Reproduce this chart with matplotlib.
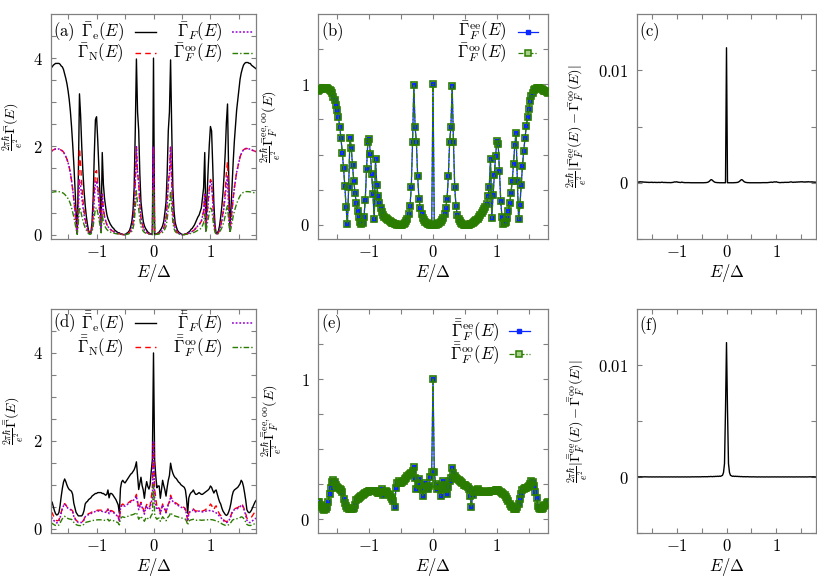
import numpy as np
import matplotlib
matplotlib.use('Agg')
import matplotlib.pyplot as plt
from matplotlib.lines import Line2D

plt.rcParams['mathtext.fontset'] = 'cm'
plt.rcParams['font.family'] = 'serif'
plt.rcParams['font.serif'] = ['DejaVu Serif']

# energy grid E/Delta (step 0.02)
E = np.round(np.linspace(-1.8, 1.8, 181), 2)

# ---- single bar rates, panels (a), (b), (c) ----
# Gamma_F^oo (green), shared by (a) and (b)
gam_F_oo = [
    0.955, 0.960, 0.965, 0.969, 0.972, 0.974, 0.975, 0.973, 0.968, 0.960,
    0.950, 0.935, 0.912, 0.885, 0.855, 0.815, 0.765, 0.700, 0.615, 0.515,
    0.405, 0.275, 0.125, 0.005, 0.270, 0.620, 0.550, 0.425, 0.315, 0.225,
    0.155, 0.100, 0.055, 0.022, 0.005, 0.012, 0.060, 0.180, 0.400, 0.590,
    0.612, 0.505, 0.362, 0.220, 0.040, 0.470, 0.283, 0.207, 0.155, 0.117,
    0.092, 0.074, 0.060, 0.049, 0.040, 0.033, 0.027, 0.021, 0.016, 0.012,
    0.008, 0.005, 0.003, 0.001, 0.000, 0.001, 0.003, 0.008, 0.015, 0.027,
    0.045, 0.076, 0.136, 0.267, 0.588, 0.993, 0.696, 0.588, 0.345, 0.184,
    0.124, 0.076, 0.050, 0.035, 0.024, 0.016, 0.010, 0.006, 0.003, 0.001,
    1.000, 0.001, 0.003, 0.006, 0.010, 0.016, 0.024, 0.035, 0.050, 0.076,
    0.124, 0.184, 0.345, 0.588, 0.696, 0.988, 0.593, 0.267, 0.136, 0.071,
    0.045, 0.027, 0.015, 0.008, 0.003, 0.001, 0.000, 0.001, 0.003, 0.006,
    0.010, 0.015, 0.021, 0.028, 0.035, 0.044, 0.054, 0.068, 0.083, 0.098,
    0.112, 0.128, 0.150, 0.203, 0.267, 0.469, 0.046, 0.212, 0.355, 0.493,
    0.600, 0.576, 0.386, 0.171, 0.053, 0.005, 0.012, 0.022, 0.050, 0.100,
    0.155, 0.225, 0.315, 0.430, 0.570, 0.655, 0.314, 0.040, 0.141, 0.283,
    0.417, 0.529, 0.617, 0.703, 0.767, 0.826, 0.879, 0.915, 0.940, 0.958,
    0.968, 0.974, 0.975, 0.974, 0.972, 0.968, 0.962, 0.956, 0.950, 0.945,
    0.940]
# ee and oo coincide at this resolution, panel (c) shows their difference
gam_F_ee = list(gam_F_oo)

gam_F = [
    1.89, 1.90, 1.92, 1.93, 1.94, 1.94, 1.94, 1.94, 1.93, 1.91,
    1.90, 1.87, 1.82, 1.77, 1.71, 1.63, 1.53, 1.40, 1.23, 1.03,
    0.81, 0.55, 0.25, 0.01, 0.54, 1.24, 1.10, 0.85, 0.63, 0.45,
    0.31, 0.20, 0.11, 0.04, 0.01, 0.02, 0.12, 0.36, 0.80, 1.18,
    1.22, 1.01, 0.72, 0.44, 0.08, 0.94, 0.57, 0.41, 0.31, 0.23,
    0.18, 0.15, 0.12, 0.10, 0.08, 0.07, 0.05, 0.04, 0.03, 0.02,
    0.02, 0.01, 0.01, 0.00, 0.00, 0.00, 0.01, 0.02, 0.03, 0.05,
    0.09, 0.15, 0.27, 0.53, 1.18, 1.99, 1.39, 1.18, 0.69, 0.37,
    0.25, 0.15, 0.10, 0.07, 0.05, 0.03, 0.02, 0.01, 0.01, 0.00,
    2.00, 0.00, 0.01, 0.01, 0.02, 0.03, 0.05, 0.07, 0.10, 0.15,
    0.25, 0.37, 0.69, 1.18, 1.39, 1.98, 1.19, 0.53, 0.27, 0.14,
    0.09, 0.05, 0.03, 0.02, 0.01, 0.00, 0.00, 0.00, 0.01, 0.01,
    0.02, 0.03, 0.04, 0.06, 0.07, 0.09, 0.11, 0.14, 0.17, 0.20,
    0.22, 0.26, 0.30, 0.41, 0.53, 0.94, 0.09, 0.42, 0.71, 0.99,
    1.20, 1.15, 0.77, 0.34, 0.11, 0.01, 0.02, 0.04, 0.10, 0.20,
    0.31, 0.45, 0.63, 0.86, 1.14, 1.31, 0.63, 0.08, 0.28, 0.57,
    0.83, 1.06, 1.23, 1.41, 1.53, 1.65, 1.76, 1.83, 1.88, 1.92,
    1.94, 1.95, 1.95, 1.95, 1.94, 1.94, 1.92, 1.91, 1.90, 1.89,
    1.88]

gam_N = [
    1.89, 1.90, 1.92, 1.93, 1.94, 1.94, 1.94, 1.94, 1.93, 1.91,
    1.90, 1.87, 1.82, 1.77, 1.71, 1.63, 1.53, 1.40, 1.23, 1.03,
    0.81, 0.55, 0.25, 0.02, 0.80, 1.95, 1.60, 1.15, 0.80, 0.55,
    0.36, 0.22, 0.12, 0.05, 0.02, 0.03, 0.14, 0.45, 1.00, 1.42,
    1.45, 1.15, 0.80, 0.48, 0.09, 0.92, 0.57, 0.41, 0.31, 0.23,
    0.18, 0.15, 0.12, 0.10, 0.08, 0.07, 0.05, 0.04, 0.03, 0.02,
    0.02, 0.01, 0.01, 0.00, 0.00, 0.00, 0.01, 0.02, 0.03, 0.05,
    0.09, 0.15, 0.27, 0.53, 1.18, 1.99, 1.39, 1.18, 0.69, 0.37,
    0.25, 0.15, 0.10, 0.07, 0.05, 0.03, 0.02, 0.01, 0.01, 0.00,
    2.00, 0.00, 0.01, 0.01, 0.02, 0.03, 0.05, 0.07, 0.10, 0.15,
    0.25, 0.37, 0.69, 1.18, 1.39, 1.98, 1.19, 0.53, 0.27, 0.14,
    0.09, 0.05, 0.03, 0.02, 0.01, 0.00, 0.00, 0.00, 0.01, 0.01,
    0.02, 0.03, 0.04, 0.06, 0.07, 0.09, 0.11, 0.14, 0.17, 0.20,
    0.22, 0.26, 0.30, 0.41, 0.53, 0.92, 0.09, 0.44, 0.78, 1.05,
    1.25, 1.20, 0.80, 0.36, 0.11, 0.01, 0.02, 0.04, 0.10, 0.20,
    0.33, 0.50, 0.72, 1.00, 1.40, 1.65, 0.75, 0.10, 0.29, 0.57,
    0.83, 1.06, 1.23, 1.41, 1.53, 1.65, 1.76, 1.83, 1.88, 1.92,
    1.94, 1.95, 1.95, 1.95, 1.94, 1.94, 1.92, 1.91, 1.90, 1.89,
    1.88]

gam_e = [
    3.78, 3.80, 3.84, 3.86, 3.88, 3.88, 3.88, 3.88, 3.86, 3.82,
    3.80, 3.74, 3.64, 3.54, 3.42, 3.26, 3.06, 2.80, 2.46, 2.06,
    1.62, 1.10, 0.50, 0.03, 1.34, 3.19, 2.70, 2.00, 1.43, 1.00,
    0.67, 0.42, 0.23, 0.09, 0.03, 0.05, 0.26, 0.81, 1.80, 2.60,
    2.67, 2.16, 1.52, 0.92, 0.17, 1.86, 1.14, 0.82, 0.62, 0.46,
    0.36, 0.30, 0.24, 0.20, 0.16, 0.14, 0.10, 0.08, 0.06, 0.04,
    0.04, 0.02, 0.02, 0.00, 0.00, 0.00, 0.02, 0.04, 0.06, 0.10,
    0.18, 0.30, 0.54, 1.06, 2.36, 3.98, 2.78, 2.36, 1.38, 0.74,
    0.50, 0.30, 0.20, 0.14, 0.10, 0.06, 0.04, 0.02, 0.02, 0.00,
    4.00, 0.00, 0.02, 0.02, 0.04, 0.06, 0.10, 0.14, 0.20, 0.30,
    0.50, 0.74, 1.38, 2.36, 2.78, 3.96, 2.38, 1.06, 0.54, 0.28,
    0.18, 0.10, 0.06, 0.04, 0.02, 0.00, 0.00, 0.00, 0.02, 0.02,
    0.04, 0.06, 0.08, 0.12, 0.14, 0.18, 0.22, 0.28, 0.34, 0.40,
    0.44, 0.52, 0.60, 0.82, 1.06, 1.86, 0.18, 0.86, 1.49, 2.04,
    2.45, 2.35, 1.57, 0.70, 0.22, 0.02, 0.04, 0.08, 0.20, 0.40,
    0.64, 0.95, 1.35, 1.86, 2.54, 2.96, 1.38, 0.18, 0.57, 1.14,
    1.66, 2.12, 2.46, 2.82, 3.06, 3.30, 3.52, 3.66, 3.76, 3.84,
    3.88, 3.90, 3.90, 3.90, 3.88, 3.88, 3.84, 3.82, 3.80, 3.78,
    3.76]

# |ee - oo| for panel (c), in units of 1e-3
diff_c_milli = [
    0.05, 0.08, 0.04, 0.10, 0.06, 0.09, 0.05, 0.07, 0.04, 0.06,
    0.03, 0.05, 0.02, 0.04, 0.03, 0.05, 0.02, 0.03, 0.04, 0.02,
    0.03, 0.02, 0.04, 0.02, 0.03, 0.05, 0.03, 0.02, 0.03, 0.02,
    0.02, 0.01, 0.02, 0.01, 0.01, 0.02, 0.03, 0.05, 0.08, 0.06,
    0.09, 0.05, 0.04, 0.03, 0.02, 0.06, 0.03, 0.02, 0.01, 0.01,
    0.01, 0.01, 0.01, 0.01, 0.00, 0.00, 0.00, 0.00, 0.00, 0.00,
    0.00, 0.00, 0.00, 0.00, 0.00, 0.00, 0.00, 0.00, 0.01, 0.01,
    0.02, 0.04, 0.08, 0.15, 0.25, 0.28, 0.20, 0.12, 0.06, 0.03,
    0.02, 0.01, 0.01, 0.00, 0.00, 0.00, 0.00, 0.00, 0.00, 0.00,
    12.0, 0.00, 0.00, 0.00, 0.00, 0.00, 0.00, 0.00, 0.01, 0.01,
    0.02, 0.03, 0.06, 0.12, 0.20, 0.28, 0.25, 0.15, 0.08, 0.04,
    0.02, 0.01, 0.01, 0.00, 0.00, 0.00, 0.00, 0.00, 0.00, 0.00,
    0.00, 0.00, 0.00, 0.00, 0.00, 0.00, 0.01, 0.01, 0.01, 0.01,
    0.01, 0.01, 0.02, 0.03, 0.04, 0.06, 0.03, 0.05, 0.08, 0.06,
    0.09, 0.05, 0.03, 0.02, 0.01, 0.02, 0.03, 0.02, 0.03, 0.04,
    0.03, 0.04, 0.03, 0.05, 0.06, 0.08, 0.05, 0.03, 0.06, 0.04,
    0.07, 0.05, 0.08, 0.06, 0.09, 0.07, 0.10, 0.06, 0.08, 0.05,
    0.09, 0.06, 0.10, 0.07, 0.08, 0.06, 0.09, 0.05, 0.07, 0.04,
    0.06]

# ---- double bar rates, panels (d), (e), (f) ----
gam2_F_oo = [
    0.125, 0.118, 0.100, 0.083, 0.072, 0.066, 0.072, 0.085, 0.125, 0.180,
    0.225, 0.262, 0.280, 0.265, 0.245, 0.228, 0.220, 0.215, 0.210, 0.190,
    0.142, 0.115, 0.092, 0.080, 0.072, 0.069, 0.068, 0.072, 0.080, 0.100,
    0.135, 0.145, 0.152, 0.160, 0.166, 0.172, 0.180, 0.186, 0.190, 0.194,
    0.197, 0.200, 0.201, 0.201, 0.200, 0.197, 0.193, 0.188, 0.184, 0.192,
    0.213, 0.172, 0.195, 0.197, 0.190, 0.180, 0.170, 0.158, 0.145, 0.130,
    0.085, 0.225, 0.260, 0.270, 0.258, 0.255, 0.265, 0.275, 0.285, 0.295,
    0.305, 0.312, 0.320, 0.330, 0.345, 0.370, 0.296, 0.213, 0.250, 0.284,
    0.240, 0.213, 0.166, 0.225, 0.260, 0.230, 0.213, 0.237, 0.300, 0.336,
    1.000, 0.336, 0.250, 0.213, 0.237, 0.237, 0.166, 0.213, 0.270, 0.240,
    0.213, 0.178, 0.230, 0.270, 0.296, 0.365, 0.330, 0.310, 0.295, 0.285,
    0.278, 0.270, 0.262, 0.255, 0.245, 0.240, 0.236, 0.228, 0.215, 0.166,
    0.083, 0.170, 0.190, 0.200, 0.205, 0.213, 0.200, 0.192, 0.190, 0.195,
    0.200, 0.195, 0.190, 0.192, 0.196, 0.198, 0.200, 0.201, 0.202, 0.204,
    0.206, 0.204, 0.200, 0.192, 0.185, 0.178, 0.168, 0.155, 0.140, 0.130,
    0.110, 0.095, 0.085, 0.075, 0.071, 0.075, 0.088, 0.110, 0.140, 0.180,
    0.205, 0.213, 0.218, 0.225, 0.230, 0.238, 0.250, 0.268, 0.262, 0.237,
    0.195, 0.150, 0.095, 0.080, 0.072, 0.071, 0.078, 0.090, 0.100, 0.112,
    0.118]
gam2_F_ee = list(gam2_F_oo)

gam2_F = [
    0.25, 0.24, 0.20, 0.17, 0.14, 0.13, 0.14, 0.17, 0.25, 0.36,
    0.45, 0.52, 0.56, 0.53, 0.49, 0.46, 0.44, 0.43, 0.42, 0.38,
    0.28, 0.23, 0.18, 0.16, 0.14, 0.14, 0.14, 0.14, 0.16, 0.20,
    0.27, 0.29, 0.30, 0.32, 0.33, 0.34, 0.36, 0.37, 0.38, 0.39,
    0.39, 0.40, 0.40, 0.40, 0.40, 0.39, 0.39, 0.38, 0.37, 0.38,
    0.43, 0.34, 0.39, 0.39, 0.38, 0.36, 0.34, 0.32, 0.29, 0.26,
    0.17, 0.45, 0.52, 0.54, 0.52, 0.51, 0.53, 0.55, 0.57, 0.59,
    0.61, 0.62, 0.64, 0.66, 0.69, 0.74, 0.59, 0.43, 0.50, 0.57,
    0.48, 0.43, 0.33, 0.45, 0.52, 0.46, 0.43, 0.47, 0.60, 0.67,
    2.00, 0.67, 0.50, 0.43, 0.47, 0.47, 0.33, 0.43, 0.54, 0.48,
    0.43, 0.36, 0.46, 0.54, 0.59, 0.73, 0.66, 0.62, 0.59, 0.57,
    0.56, 0.54, 0.52, 0.51, 0.49, 0.48, 0.47, 0.46, 0.43, 0.33,
    0.17, 0.34, 0.38, 0.40, 0.41, 0.43, 0.40, 0.38, 0.38, 0.39,
    0.40, 0.39, 0.38, 0.38, 0.39, 0.40, 0.40, 0.40, 0.40, 0.41,
    0.41, 0.41, 0.40, 0.38, 0.37, 0.36, 0.34, 0.31, 0.28, 0.26,
    0.22, 0.19, 0.17, 0.15, 0.14, 0.15, 0.18, 0.22, 0.28, 0.36,
    0.41, 0.43, 0.44, 0.45, 0.46, 0.48, 0.50, 0.54, 0.52, 0.47,
    0.39, 0.30, 0.19, 0.16, 0.14, 0.14, 0.16, 0.18, 0.20, 0.22,
    0.24]

gam2_N = [
    0.38, 0.36, 0.30, 0.24, 0.20, 0.18, 0.18, 0.20, 0.28, 0.38,
    0.47, 0.54, 0.57, 0.54, 0.50, 0.47, 0.45, 0.44, 0.43, 0.40,
    0.30, 0.24, 0.19, 0.17, 0.15, 0.15, 0.15, 0.15, 0.17, 0.21,
    0.29, 0.31, 0.32, 0.34, 0.35, 0.36, 0.38, 0.39, 0.40, 0.41,
    0.41, 0.42, 0.42, 0.42, 0.42, 0.41, 0.41, 0.40, 0.39, 0.40,
    0.45, 0.36, 0.41, 0.41, 0.40, 0.38, 0.36, 0.34, 0.31, 0.28,
    0.18, 0.47, 0.54, 0.56, 0.54, 0.53, 0.55, 0.57, 0.59, 0.61,
    0.63, 0.64, 0.66, 0.68, 0.72, 0.78, 0.62, 0.46, 0.53, 0.60,
    0.50, 0.45, 0.36, 0.47, 0.55, 0.50, 0.47, 0.52, 0.70, 0.90,
    2.00, 0.90, 0.70, 0.50, 0.50, 0.50, 0.36, 0.45, 0.56, 0.50,
    0.45, 0.38, 0.48, 0.56, 0.62, 0.76, 0.69, 0.64, 0.61, 0.59,
    0.58, 0.56, 0.54, 0.53, 0.51, 0.50, 0.49, 0.48, 0.45, 0.35,
    0.18, 0.36, 0.40, 0.42, 0.43, 0.45, 0.42, 0.40, 0.40, 0.41,
    0.42, 0.41, 0.40, 0.40, 0.41, 0.42, 0.44, 0.46, 0.48, 0.50,
    0.56, 0.53, 0.47, 0.43, 0.49, 0.52, 0.44, 0.38, 0.33, 0.30,
    0.25, 0.21, 0.19, 0.17, 0.16, 0.17, 0.20, 0.24, 0.30, 0.38,
    0.43, 0.45, 0.46, 0.47, 0.48, 0.50, 0.52, 0.56, 0.54, 0.49,
    0.42, 0.34, 0.24, 0.22, 0.22, 0.24, 0.26, 0.30, 0.34, 0.38,
    0.40]

gam2_e = [
    0.63, 0.60, 0.50, 0.41, 0.34, 0.31, 0.32, 0.37, 0.53, 0.74,
    0.92, 1.06, 1.13, 1.07, 0.99, 0.93, 0.89, 0.87, 0.85, 0.78,
    0.58, 0.47, 0.37, 0.33, 0.29, 0.29, 0.29, 0.29, 0.33, 0.41,
    0.56, 0.60, 0.62, 0.66, 0.68, 0.70, 0.74, 0.76, 0.78, 0.80,
    0.80, 0.82, 0.82, 0.82, 0.82, 0.80, 0.80, 0.78, 0.76, 0.78,
    0.88, 0.70, 0.80, 0.80, 0.78, 0.74, 0.70, 0.66, 0.60, 0.54,
    0.35, 0.92, 1.06, 1.10, 1.06, 1.04, 1.08, 1.12, 1.16, 1.20,
    1.24, 1.26, 1.30, 1.34, 1.41, 1.52, 1.21, 0.89, 1.03, 1.17,
    0.98, 0.88, 0.69, 0.92, 1.07, 0.96, 0.90, 0.99, 1.30, 1.57,
    4.00, 1.57, 1.20, 0.93, 0.97, 0.97, 0.69, 0.88, 1.10, 0.98,
    0.88, 0.74, 0.94, 1.10, 1.21, 1.49, 1.35, 1.26, 1.20, 1.16,
    1.14, 1.10, 1.06, 1.04, 1.00, 0.98, 0.96, 0.94, 0.88, 0.68,
    0.35, 0.70, 0.78, 0.82, 0.84, 0.88, 0.82, 0.78, 0.78, 0.80,
    0.82, 0.80, 0.78, 0.78, 0.80, 0.82, 0.84, 0.86, 0.88, 0.91,
    0.97, 0.94, 0.87, 0.81, 0.86, 0.88, 0.78, 0.69, 0.61, 0.56,
    0.47, 0.40, 0.36, 0.32, 0.30, 0.32, 0.38, 0.46, 0.58, 0.74,
    0.84, 0.88, 0.90, 0.92, 0.94, 0.98, 1.02, 1.10, 1.06, 0.96,
    0.81, 0.64, 0.43, 0.38, 0.36, 0.38, 0.42, 0.48, 0.54, 0.60,
    0.64]

# |ee - oo| for panel (f), in units of 1e-3
diff_f_milli = [
    0.01, 0.02, 0.01, 0.01, 0.02, 0.01, 0.01, 0.01, 0.02, 0.01,
    0.01, 0.01, 0.00, 0.01, 0.01, 0.00, 0.01, 0.01, 0.00, 0.01,
    0.01, 0.00, 0.01, 0.01, 0.00, 0.01, 0.00, 0.01, 0.01, 0.00,
    0.01, 0.00, 0.01, 0.00, 0.01, 0.01, 0.00, 0.01, 0.01, 0.00,
    0.01, 0.01, 0.00, 0.01, 0.00, 0.01, 0.01, 0.00, 0.01, 0.01,
    0.00, 0.01, 0.01, 0.00, 0.01, 0.01, 0.02, 0.01, 0.01, 0.02,
    0.01, 0.02, 0.01, 0.02, 0.01, 0.02, 0.03, 0.02, 0.03, 0.02,
    0.03, 0.02, 0.04, 0.03, 0.05, 0.04, 0.03, 0.05, 0.04, 0.06,
    0.05, 0.07, 0.05, 0.08, 0.06, 0.10, 0.15, 0.40, 1.20, 6.00,
    12.0, 6.00, 1.20, 0.40, 0.15, 0.10, 0.06, 0.08, 0.05, 0.07,
    0.05, 0.06, 0.04, 0.05, 0.03, 0.04, 0.03, 0.02, 0.03, 0.02,
    0.02, 0.03, 0.02, 0.01, 0.02, 0.01, 0.01, 0.02, 0.01, 0.01,
    0.01, 0.00, 0.01, 0.01, 0.00, 0.01, 0.01, 0.00, 0.01, 0.00,
    0.01, 0.01, 0.00, 0.01, 0.00, 0.01, 0.01, 0.00, 0.01, 0.01,
    0.00, 0.01, 0.01, 0.00, 0.01, 0.00, 0.01, 0.01, 0.00, 0.01,
    0.01, 0.00, 0.01, 0.01, 0.00, 0.01, 0.01, 0.00, 0.01, 0.00,
    0.01, 0.01, 0.00, 0.01, 0.01, 0.00, 0.01, 0.01, 0.00, 0.01,
    0.01, 0.00, 0.01, 0.01, 0.02, 0.01, 0.01, 0.02, 0.01, 0.01,
    0.01]

# colours / styles
c_e, c_N, c_F, c_oo, c_ee = 'black', '#ff0000', '#9400d3', '#2b7d00', '#0a28ff'
frame = '#808080'
fs = 12      # ticks, x labels, legends
fs_y = 10.2  # y labels

fig = plt.figure(figsize=(8.17, 5.78), dpi=100)
W, H = 817, 578


def add_ax(x0, x1, y0, y1):
    return fig.add_axes([x0 / W, 1 - y1 / H, (x1 - x0) / W, (y1 - y0) / H])


def style(ax, ylim, yt, ytl, ymin, ylabel, lx):
    ax.set_xlim(-1.8, 1.8)
    ax.set_ylim(*ylim)
    ax.set_xticks([-1, 0, 1])
    ax.set_xticklabels([r'$-1$', r'$0$', r'$1$'])
    ax.set_xticks([-1.5, -0.5, 0.5, 1.5], minor=True)
    ax.set_yticks(yt)
    ax.set_yticklabels(ytl)
    ax.set_yticks(ymin, minor=True)
    ax.tick_params(which='both', direction='in', top=True, right=True,
                   length=3.5, width=0.8, color=frame, labelsize=fs)
    ax.tick_params(axis='y', which='both', pad=6)
    for s in ax.spines.values():
        s.set_color(frame)
        s.set_linewidth(0.9)
    ax.set_xlabel(r'$E/\Delta$', fontsize=fs, labelpad=1)
    ax.set_ylabel(ylabel, fontsize=fs_y)
    ax.yaxis.set_label_coords(lx, 0.5)


def key(ax, xt, x0, x1, y, label, **kw):
    ax.text(xt, y, label, transform=ax.transAxes, ha='right', va='center', fontsize=fs)
    ax.add_line(Line2D([x0, (x0 + x1) / 2, x1], [y, y, y], transform=ax.transAxes,
                       markevery=[1], clip_on=False, **kw))


def tag(ax, y, s):
    ax.text(0.012, y, s, transform=ax.transAxes, ha='left', va='center', fontsize=fs)


st_e = dict(color=c_e, lw=1.0)
st_N = dict(color=c_N, lw=1.0, dashes=(4, 3))
st_F = dict(color=c_F, lw=1.1, dashes=(1.2, 1.2))
st_oo = dict(color=c_oo, lw=1.0, dashes=(4, 1.5, 1, 1.5))

rows = [(14, 239), (309, 533)]
cols = [(51, 256), (318, 548), (637, 816)]

yl_a = [r'$\frac{2\pi\hbar}{e^2}\bar{\Gamma}(E)$', r'$\frac{2\pi\hbar}{e^2}\bar{\bar{\Gamma}}(E)$']
yl_b = [r'$\frac{2\pi\hbar}{e^2}\bar{\Gamma}^{\rm ee,oo}_F(E)$',
        r'$\frac{2\pi\hbar}{e^2}\bar{\bar{\Gamma}}^{\rm ee,oo}_F(E)$']
yl_c = [r'$\frac{2\pi\hbar}{e^2}|\bar{\Gamma}^{\rm ee}_F(E)-\bar{\Gamma}^{\rm oo}_F(E)|$',
        r'$\frac{2\pi\hbar}{e^2}|\bar{\bar{\Gamma}}^{\rm ee}_F(E)-\bar{\bar{\Gamma}}^{\rm oo}_F(E)|$']

sets = [
    (gam_e, gam_N, gam_F, gam_F_oo, gam_F_ee, diff_c_milli, r'\bar{\Gamma}', 'abc'),
    (gam2_e, gam2_N, gam2_F, gam2_F_oo, gam2_F_ee, diff_f_milli, r'\bar{\bar{\Gamma}}', 'def'),
]

for r, (ge, gN, gF, goo, gee, dif, G, tags) in enumerate(sets):
    y0, y1 = rows[r]

    # left panel: all rates
    ax = add_ax(cols[0][0], cols[0][1], y0, y1)
    ax.plot(E, ge, **st_e)
    ax.plot(E, gN, **st_N)
    ax.plot(E, gF, **st_F)
    ax.plot(E, goo, **st_oo)
    style(ax, (-0.1, 5.0), [0, 2, 4], [r'$0$', r'$2$', r'$4$'], np.arange(0.5, 5, 0.5),
          yl_a[r], -0.122)
    ya, yb = (0.92, 0.825) if r == 0 else (0.937, 0.830)
    tag(ax, ya, r'$\mathrm{(%s)}$' % tags[0])
    key(ax, 0.355, 0.41, 0.51, ya, r'$%s_{\rm e}(E)$' % G, **st_e)
    key(ax, 0.355, 0.41, 0.51, yb, r'$%s_{\rm N}(E)$' % G, **st_N)
    key(ax, 0.838, 0.885, 0.985, ya, r'$%s_F(E)$' % G, **st_F)
    key(ax, 0.838, 0.885, 0.985, yb, r'$%s^{\rm oo}_F(E)$' % G, **st_oo)

    # middle panel: ee and oo with markers
    ax = add_ax(cols[1][0], cols[1][1], y0, y1)
    ax.plot(E, gee, color=c_ee, lw=0.9, marker='s', ms=2.6, mfc=c_ee, mec=c_ee, zorder=2)
    ax.plot(E, goo, color=c_oo, lw=0.9, dashes=(4, 1.5, 1, 1.5), marker='s', ms=4.2,
            mfc='none', mec=c_oo, mew=1.2, zorder=3)
    style(ax, (-0.1, 1.5), [0, 1], [r'$0$', r'$1$'], [0.25, 0.5, 0.75, 1.25],
          yl_b[r], -0.15)
    ya, yb = (0.921, 0.825) if r == 0 else (0.90, 0.797)
    xt, x0, x1 = (0.82, 0.87, 0.957) if r == 0 else (0.79, 0.83, 0.92)
    tag(ax, 0.921 if r == 0 else 0.936, r'$\mathrm{(%s)}$' % tags[1])
    key(ax, xt, x0, x1, ya, r'$%s^{\rm ee}_F(E)$' % G,
        color=c_ee, lw=0.9, marker='s', ms=3, mfc=c_ee, mec=c_ee)
    key(ax, xt, x0, x1, yb, r'$%s^{\rm oo}_F(E)$' % G, color=c_oo, lw=0.9,
        dashes=(4, 1.5, 1, 1.5), marker='s', ms=4, mfc='#a8d08a', mec=c_oo, mew=1.1)

    # right panel: difference
    ax = add_ax(cols[2][0], cols[2][1], y0, y1)
    ax.plot(E, np.array(dif) * 1e-3, color='black', lw=1.0)
    style(ax, (-0.005, 0.015), [0, 0.01], [r'$0$', r'$0.01$'], [-0.005, 0.005],
          yl_c[r], -0.265)
    tag(ax, 0.92 if r == 0 else 0.924, r'$\mathrm{(%s)}$' % tags[2])

fig.savefig('out.png', dpi=100)
